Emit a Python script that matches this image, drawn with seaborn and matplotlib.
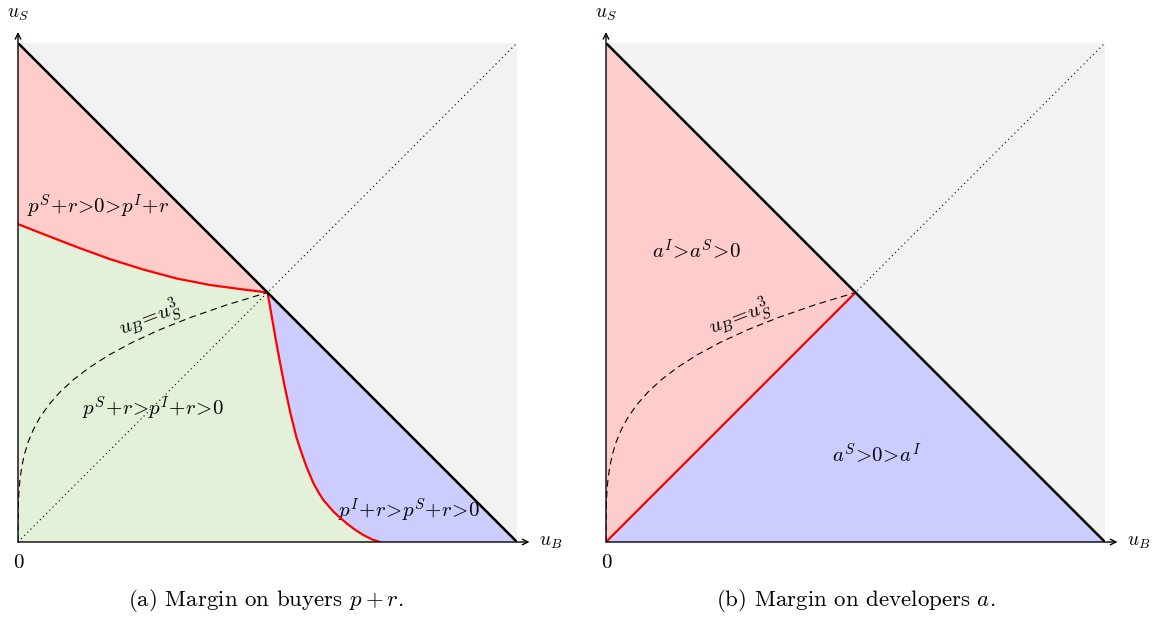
import matplotlib
matplotlib.use('Agg')
import matplotlib.pyplot as plt
import seaborn as sns

sns.set_style('white')
plt.rcParams['mathtext.fontset'] = 'cm'
plt.rcParams['font.family'] = ['cmr10', 'DejaVu Serif']
plt.rcParams['axes.unicode_minus'] = False
plt.rcParams['text.color'] = 'black'

# boundaries (u_B, u_S in units of the square)
frontier_ub = [0, 1]
frontier_us = [1, 0]
diag = [0, 1]

# panel (a): red / green boundary
upper_ub = [0, 0.051, 0.118, 0.184, 0.251, 0.318, 0.385, 0.452, 0.5]
upper_us = [0.637, 0.617, 0.591, 0.567, 0.546, 0.528, 0.515, 0.506, 0.5]
# panel (a): green / blue boundary
lower_ub = [0.5, 0.508, 0.516, 0.525, 0.535, 0.546, 0.558, 0.564, 0.578, 0.592,
            0.602, 0.612, 0.632, 0.645, 0.659, 0.675, 0.692, 0.71, 0.725]
lower_us = [0.5, 0.455, 0.409, 0.36, 0.309, 0.258, 0.21, 0.191, 0.151, 0.118,
            0.1, 0.084, 0.061, 0.049, 0.037, 0.025, 0.014, 0.005, 0.0]

# dashed u_B = u_S^3 curve
cube_ub = [0, 0.0, 0.0002, 0.0007, 0.0018, 0.0039, 0.0074, 0.0127, 0.0202, 0.0306, 0.0442,
           0.0617, 0.0837, 0.1107, 0.1434, 0.1827, 0.229, 0.2831, 0.3457, 0.4178, 0.5]
cube_us = [0, 0.025, 0.05, 0.075, 0.1, 0.125, 0.15, 0.175, 0.2, 0.225, 0.25,
           0.275, 0.3, 0.325, 0.35, 0.375, 0.4, 0.425, 0.45, 0.475, 0.5]

# panel (b): red / blue boundary
split_ub = [0, 0.5]
split_us = [0, 0.5]

captions = ['(a) Margin on buyers $p+r$.', '(b) Margin on developers $a$.']

RED = '#ffcccc'
BLUE = '#ccccff'
GREEN = '#e4f1d9'
GREY = '#f2f2f2'

fig = plt.figure(figsize=(11.6, 6.33), dpi=100)
W, H = 1160, 633
unit = 499
axs = []
for x0 in [18, 606]:
    ax = fig.add_axes([x0 / W, (H - 542) / H, unit / W, unit / H])
    ax.set_xlim(0, 1)
    ax.set_ylim(0, 1)
    ax.set_facecolor(GREY)
    for s in ax.spines.values():
        s.set_visible(False)
    ax.set_xticks([])
    ax.set_yticks([])
    axs.append(ax)


def line(ax, x, y, **kw):
    sns.lineplot(x=x, y=y, ax=ax, sort=False, estimator=None, **kw)


def common(ax):
    line(ax, diag, diag, color='black', lw=0.8, linestyle=(0, (1, 3)), zorder=3)
    line(ax, cube_ub, cube_us, color='black', lw=0.8, linestyle=(0, (6, 4)), zorder=3)
    line(ax, frontier_ub, frontier_us, color='black', lw=1.8, zorder=5)
    kw = dict(arrowstyle='->', lw=1, color='black', shrinkA=0, shrinkB=0, mutation_scale=10)
    ax.annotate('', xy=(1.025, 0), xytext=(0, 0), arrowprops=kw, annotation_clip=False, zorder=6)
    ax.annotate('', xy=(0, 1.022), xytext=(0, 0), arrowprops=kw, annotation_clip=False, zorder=6)
    ax.text(1.068, 0.0, r'$u_B$', fontsize=14, ha='center', va='center', clip_on=False)
    ax.text(0.0, 1.058, r'$u_S$', fontsize=14, ha='center', va='center', clip_on=False)
    ax.text(0.0, -0.042, '0', fontsize=15, ha='center', va='center', clip_on=False)


# panel (a)
ax = axs[0]
ax.fill([0, upper_ub[-1]] + upper_ub[::-1], [1, upper_us[-1]] + upper_us[::-1], color=RED, lw=0, zorder=1)
ax.fill([0] + upper_ub + lower_ub, [0] + upper_us + lower_us, color=GREEN, lw=0, zorder=1)
ax.fill(lower_ub + [1], lower_us + [0], color=BLUE, lw=0, zorder=1)
common(ax)
line(ax, upper_ub, upper_us, color='red', lw=1.6, zorder=4)
line(ax, lower_ub, lower_us, color='red', lw=1.6, zorder=4)
ax.text(0.160, 0.672, r'$p^S\!+\!r\!>\!0\!>\!p^I\!+\!r$', fontsize=15, ha='center', va='center')
ax.text(0.271, 0.266, r'$p^S\!+\!r\!>\!p^I\!+\!r\!>\!0$', fontsize=15, ha='center', va='center')
ax.text(0.783, 0.062, r'$p^I\!+\!r\!>\!p^S\!+\!r\!>\!0$', fontsize=15, ha='center', va='center')
ax.text(0.265, 0.447, r'$u_B\!=\!u_S^3$', fontsize=15, ha='center', va='center', rotation=21)

# panel (b)
ax = axs[1]
ax.fill([0, 0, split_ub[-1]], [0, 1, split_us[-1]], color=RED, lw=0, zorder=1)
ax.fill([0, split_ub[-1], 1], [0, split_us[-1], 0], color=BLUE, lw=0, zorder=1)
common(ax)
line(ax, split_ub, split_us, color='red', lw=1.6, zorder=4)
ax.text(0.182, 0.585, r'$a^I\!>\!a^S\!>\!0$', fontsize=15, ha='center', va='center')
ax.text(0.543, 0.178, r'$a^S\!>\!0\!>\!a^I$', fontsize=15, ha='center', va='center')
ax.text(0.269, 0.449, r'$u_B\!=\!u_S^3$', fontsize=15, ha='center', va='center', rotation=21)

fig.text(266 / W, 1 - 600 / H, captions[0], fontsize=16.5, ha='center', va='center')
fig.text(856 / W, 1 - 600 / H, captions[1], fontsize=16.5, ha='center', va='center')

fig.savefig('out.png', dpi=100)
